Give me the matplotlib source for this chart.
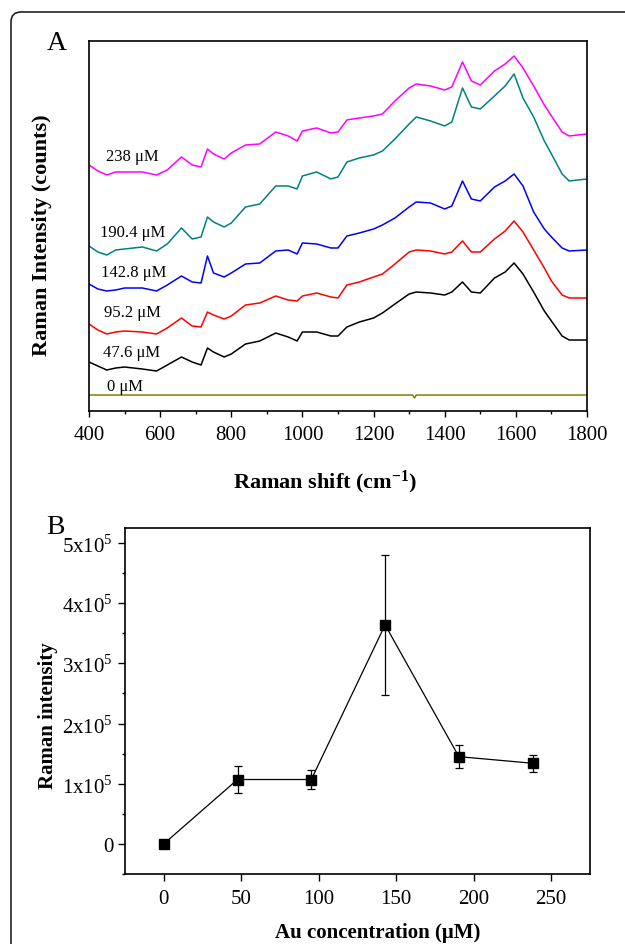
import matplotlib
matplotlib.use("Agg")
import matplotlib.pyplot as plt
from matplotlib.patches import FancyBboxPatch
from matplotlib.ticker import MultipleLocator, FixedLocator, FuncFormatter

plt.rcParams['font.family'] = ['Liberation Serif', 'DejaVu Serif']
plt.rcParams['mathtext.fontset'] = 'custom'
plt.rcParams['mathtext.rm'] = 'Liberation Serif'
plt.rcParams['mathtext.bf'] = 'Liberation Serif:bold'

# --- panel A: Raman spectra (arbitrary intensity units, offset per trace) ---
shift = [400, 425, 450, 475, 500, 550, 590, 620, 660, 690, 715, 733, 750, 780, 800,
         840, 880, 925, 960, 985, 1000, 1040, 1080, 1100, 1125, 1160, 1200, 1225, 1260,
         1300, 1320, 1360, 1400, 1420, 1450, 1475, 1500, 1540, 1570, 1595, 1620, 1650,
         1680, 1700, 1730, 1750, 1800]
spec_47 = [49, 45, 41, 43, 44, 42, 40, 46, 54, 49, 46, 63, 59, 54, 57, 67, 70, 78, 74, 70,
           79, 79, 75, 75, 84, 89, 93, 98, 107, 117, 119, 118, 116, 119, 129, 119, 118, 133,
           139, 148, 137, 119, 100, 90, 75, 71, 71]
spec_95 = [87, 81, 77, 79, 80, 79, 77, 83, 93, 85, 84, 99, 96, 92, 95, 106, 108, 115, 111,
           110, 115, 118, 114, 113, 126, 129, 134, 137, 147, 159, 161, 160, 157, 159, 170,
           159, 159, 172, 180, 190, 179, 161, 143, 130, 116, 113, 113]
spec_143 = [127, 122, 120, 121, 123, 123, 120, 126, 135, 129, 128, 155, 138, 134, 138, 147,
            148, 160, 161, 157, 168, 167, 163, 163, 175, 178, 182, 186, 193, 204, 209, 208,
            202, 205, 230, 212, 210, 224, 230, 237, 225, 199, 182, 174, 163, 160, 161]
spec_190 = [165, 159, 156, 161, 162, 164, 160, 167, 183, 172, 174, 194, 189, 184, 188, 204,
            207, 225, 225, 222, 235, 239, 232, 234, 249, 253, 256, 260, 272, 287, 294, 290,
            285, 289, 323, 304, 302, 315, 325, 337, 313, 294, 270, 257, 237, 230, 232]
spec_238 = [246, 240, 236, 239, 239, 239, 236, 241, 254, 246, 244, 262, 257, 252, 258, 266,
            267, 279, 275, 270, 280, 283, 278, 279, 291, 293, 295, 297, 310, 323, 327, 325,
            321, 324, 349, 330, 326, 340, 347, 355, 343, 325, 306, 295, 279, 275, 277]
base_x = [400, 1310, 1315, 1320, 1800]
spec_0 = [16, 16, 13, 16, 16]

labels_a = ['238 \u03bcM', '190.4 \u03bcM', '142.8 \u03bcM', '95.2 \u03bcM', '47.6 \u03bcM', '0 \u03bcM']
label_x = [521, 522, 527, 521, 521, 502]
label_y = [255, 179, 139, 99, 59, 25]

# --- panel B: peak intensity vs Au concentration ---
conc = [0, 47.6, 95.2, 142.8, 190.4, 238]
intensity = [0, 1.07e5, 1.07e5, 3.64e5, 1.45e5, 1.34e5]
err = [0, 0.22e5, 0.15e5, 1.16e5, 0.19e5, 0.145e5]

fig = plt.figure(figsize=(6.25, 9.45), dpi=100)

# rounded frame around the figure (cut at right and bottom as in the source)
frame = FancyBboxPatch((0.11, -0.6), 7.0, 9.92, boxstyle="round,pad=0,rounding_size=0.1",
                       transform=fig.dpi_scale_trans, fill=False, lw=1.2, ec='#222222')
fig.patches.append(frame)

# ---------- A ----------
ax1 = fig.add_axes([0.1424, 0.5640, 0.7968, 0.3916])
ax1.plot(shift, spec_238, color='#ff00ff', lw=1.1)
ax1.plot(shift, spec_190, color='#008080', lw=1.1)
ax1.plot(shift, spec_143, color='#0000ff', lw=1.1)
ax1.plot(shift, spec_95, color='#ff0000', lw=1.1)
ax1.plot(shift, spec_47, color='#000000', lw=1.1)
ax1.plot(base_x, spec_0, color='#808000', lw=1.1)
for t, x, y in zip(labels_a, label_x, label_y):
    ax1.text(x, y, t, ha='center', va='center', fontsize=12)
ax1.set_xlim(400, 1800)
ax1.set_ylim(0, 370)
ax1.set_yticks([])
ax1.xaxis.set_major_locator(MultipleLocator(200))
ax1.xaxis.set_minor_locator(MultipleLocator(100))
ax1.tick_params(axis='x', which='major', direction='out', length=4, width=1, labelsize=15, pad=6)
ax1.tick_params(axis='x', which='minor', direction='out', length=2.5, width=1)
for s in ax1.spines.values():
    s.set_linewidth(1.2)
ax1.set_xlabel('Raman shift (cm$\\mathbf{^{-1}}$)', fontsize=16, fontweight='bold', va='center')
ax1.xaxis.set_label_coords(0.474, -0.19)
ax1.set_ylabel('Raman Intensity (counts)', fontsize=16, fontweight='bold', va='center')
ax1.yaxis.set_label_coords(-0.094, 0.478)
fig.text(57 / 625, 1 - 44 / 945, 'A', fontsize=20, ha='center', va='center')

# ---------- B ----------
ax2 = fig.add_axes([0.2, 0.0741, 0.744, 0.3661])
ax2.errorbar(conc, intensity, yerr=err, color='black', lw=0.9, marker='s', ms=6.5,
             capsize=3, elinewidth=0.9, capthick=0.9)
ax2.set_xlim(-25, 275)
ax2.set_ylim(-0.5e5, 5.25e5)
ax2.xaxis.set_major_locator(MultipleLocator(50))
ax2.yaxis.set_major_locator(FixedLocator([0, 1e5, 2e5, 3e5, 4e5, 5e5]))
ax2.yaxis.set_minor_locator(MultipleLocator(0.5e5))
ax2.yaxis.set_major_formatter(FuncFormatter(
    lambda v, p: '0' if v == 0 else '%dx10$^{5}$' % round(v / 1e5)))
ax2.tick_params(axis='both', which='major', direction='out', length=5, width=1, labelsize=15)
ax2.tick_params(axis='x', which='major', pad=6)
ax2.tick_params(axis='y', which='minor', direction='out', length=2.5, width=1)
for s in ax2.spines.values():
    s.set_linewidth(1.2)
ax2.set_xlabel('Au concentration (\u03bcM)', fontsize=15, fontweight='bold', va='center')
ax2.xaxis.set_label_coords(0.544, -0.168)
ax2.set_ylabel('Raman intensity', fontsize=15, fontweight='bold', va='center')
ax2.yaxis.set_label_coords(-0.166, 0.462)
fig.text(55 / 625, 1 - 527 / 945, 'B', fontsize=20, ha='center', va='center')

fig.savefig('out.png', dpi=100)
